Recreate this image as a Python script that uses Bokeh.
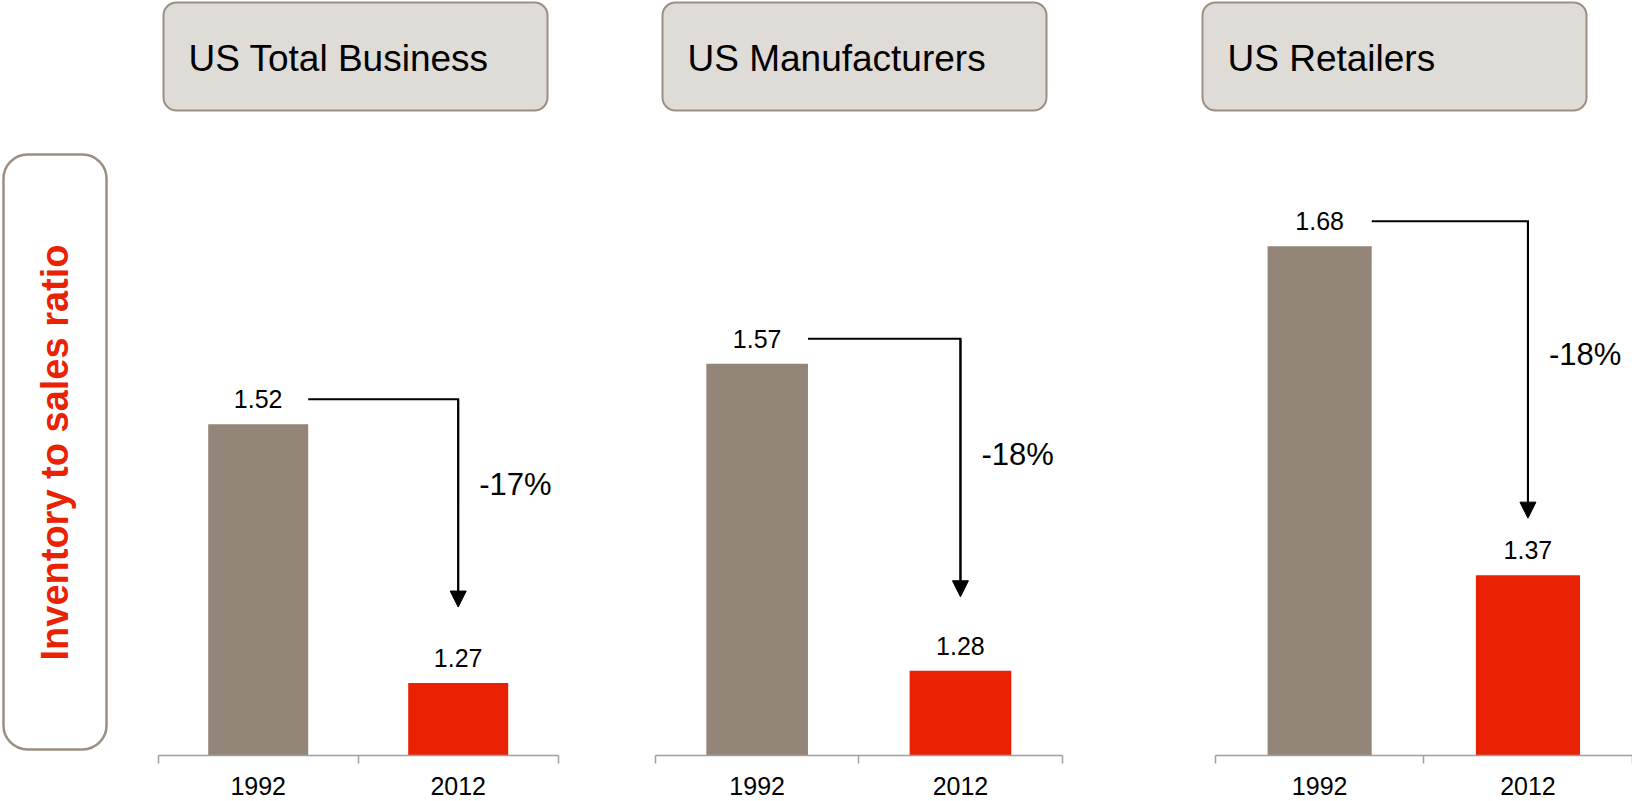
from math import pi
from bokeh.plotting import figure
from bokeh.layouts import row
from bokeh.models import Range1d, BoxAnnotation, Arrow, NormalHead, FixedTicker
from bokeh.core.properties import value
from bokeh.embed import file_html
from bokeh.resources import INLINE

# ---------------- data ----------------
panel_titles = ["US Total Business", "US Manufacturers", "US Retailers"]
years = ["1992", "2012"]
ratio_1992 = [1.52, 1.57, 1.68]
ratio_2012 = [1.27, 1.28, 1.37]
change_labels = ["-17%", "-18%", "-18%"]
y_label = "Inventory to sales ratio"
axis_min = 1.2

# ---------------- style / layout ----------------
FONT = "Liberation Sans"
GRAY = "#938678"
RED = "#EA2204"
BOX_FILL = "#DFDCD7"
BOX_LINE = "#9C8F81"
AXIS_COLOR = "#A0A0A0"

H = 800          # canvas height
AXIS_Y = 755     # pixel row of the category axis line (= frame height)

fig_left = [150, 605, 1190]
fig_width = [455, 585, 442]
axis_left = [157.7, 655, 1215]
cat_width = [200, 203.3, 208.3]
px_per_unit = [1035, 1059, 1061]
box_left = [163, 662, 1202]
box_w = 384
tip_gap = [76, 74, 57]
pct_frac = [0.41, 0.45, 0.45]


def style_fig(p):
    p.outline_line_color = None
    p.grid.grid_line_color = None
    p.background_fill_color = "white"
    p.border_fill_color = "white"
    return p


# ---------------- left label panel ----------------
W0 = fig_left[0]
p0 = figure(width=W0, height=H, frame_width=W0, frame_height=H,
            x_range=Range1d(0, W0), y_range=Range1d(H, 0),
            output_backend="svg", toolbar_location=None,
            x_axis_location=None, y_axis_location=None, min_border=0, title=None)
style_fig(p0)
p0.add_layout(BoxAnnotation(left=3, right=106, top=154, bottom=749,
                            fill_color="white", fill_alpha=1,
                            line_color=BOX_LINE, line_alpha=1, line_width=2.5,
                            border_radius=24, level="underlay"))
p0.text(x=[54], y=[452], text=[y_label], angle=pi / 2,
        text_align="center", text_baseline="middle",
        text_font=value(FONT), text_font_style="bold",
        text_font_size="38px", text_color=RED)

figs = [p0]

# ---------------- panels ----------------
for k in range(len(panel_titles)):
    W = fig_width[k]
    cw = cat_width[k]
    ppu = px_per_unit[k]
    x0 = (fig_left[k] - axis_left[k]) / cw
    x1 = (fig_left[k] + W - axis_left[k]) / cw
    p = figure(width=W, height=H, frame_width=W, frame_height=AXIS_Y,
               x_range=Range1d(x0, x1),
               y_range=Range1d(axis_min, axis_min + AXIS_Y / ppu),
               output_backend="svg", toolbar_location=None,
               y_axis_location=None, min_border=0, title=None)
    p.min_border_bottom = H - AXIS_Y
    style_fig(p)
    p.extra_x_ranges = {"px": Range1d(0, W)}
    p.extra_y_ranges = {"px": Range1d(AXIS_Y, 0)}

    xs = [i + 0.5 for i in range(len(years))]
    tops = [ratio_1992[k], ratio_2012[k]]

    # title box
    p.add_layout(BoxAnnotation(left=box_left[k] - fig_left[k],
                               right=box_left[k] - fig_left[k] + box_w,
                               top=2, bottom=110,
                               x_range_name="px", y_range_name="px",
                               fill_color=BOX_FILL, fill_alpha=1,
                               line_color=BOX_LINE, line_alpha=1, line_width=2,
                               border_radius=13, level="underlay"))
    p.text(x=[box_left[k] - fig_left[k] + 25], y=[58], text=[panel_titles[k]],
           x_range_name="px", y_range_name="px",
           text_align="left", text_baseline="middle",
           text_font=value(FONT), text_font_size="37px", text_color="black")

    # bars
    p.vbar(x=xs, top=tops, bottom=axis_min, width=0.5,
           fill_color=[GRAY, RED], line_color=None)

    # value labels
    p.text(x=xs, y=tops, text=[f"{v:.2f}" for v in tops], y_offset=-25,
           text_align="center", text_baseline="middle",
           text_font=value(FONT), text_font_size="25px", text_color="black")

    # change arrow
    y_h = tops[0] + 25 / ppu
    y_tip = tops[1] + tip_gap[k] / ppu
    p.line(x=[xs[0] + 0.25, xs[1], xs[1]], y=[y_h, y_h, y_tip + 10 / ppu],
           line_color="black", line_width=2, line_join="miter")
    p.add_layout(Arrow(end=NormalHead(size=16, fill_color="black", line_color="black"),
                       x_start=xs[1], y_start=y_h, x_end=xs[1], y_end=y_tip,
                       line_color="black", line_width=2))
    p.text(x=[xs[1]], y=[y_h + pct_frac[k] * (y_tip - y_h)], text=[change_labels[k]],
           x_offset=21, text_align="left", text_baseline="middle",
           text_font=value(FONT), text_font_size="31px", text_color="black")

    # category axis
    ax = p.xaxis[0]
    ax.bounds = (0, len(years))
    ax.ticker = FixedTicker(ticks=xs, minor_ticks=list(range(len(years) + 1)))
    ax.major_label_overrides = {x: y for x, y in zip(xs, years)}
    ax.major_tick_line_color = None
    ax.major_tick_in = 0
    ax.major_tick_out = 0
    ax.minor_tick_line_color = AXIS_COLOR
    ax.minor_tick_line_width = 1.5
    ax.minor_tick_in = 0
    ax.minor_tick_out = 8
    ax.axis_line_color = AXIS_COLOR
    ax.axis_line_width = 1.5
    ax.major_label_text_font = FONT
    ax.major_label_text_font_size = "25px"
    ax.major_label_text_color = "black"
    ax.major_label_standoff = 13

    figs.append(p)

layout = row(figs, spacing=0)
open("out.html", "w").write(file_html(layout, INLINE))
